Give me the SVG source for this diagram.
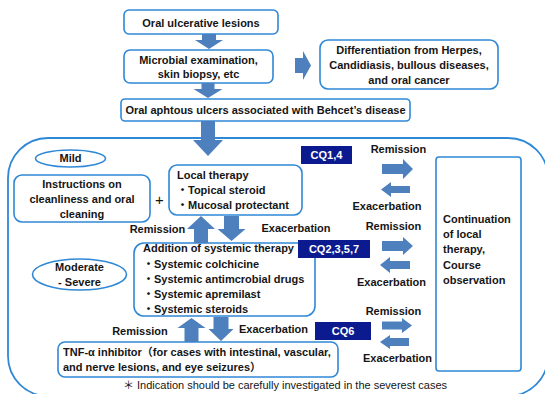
<svg xmlns="http://www.w3.org/2000/svg" width="545" height="394" viewBox="0 0 545 394">
<style>
.box{fill:#fff;stroke:#2F88D6;stroke-width:1.6}
.cont{fill:none;stroke:#2F88D6;stroke-width:1.8}
.cq{fill:#0B1A8E}
.arr{fill:#4E80BE}
text{font-family:"Liberation Sans","Noto Sans CJK JP",sans-serif;font-size:11px;font-weight:bold;fill:#151515}
.m{text-anchor:middle}
.w{fill:#fff}
.reg{font-weight:normal}
</style>
<rect width="545" height="394" fill="#fff"/>
<g id="container"><rect class="cont" x="8" y="138" width="540" height="258" rx="40"/></g>

<g id="n-oral-ulcerative">
<rect class="box" x="124" y="10" width="154" height="24" rx="5"/>
<text class="m" x="201" y="26.5">Oral ulcerative lesions</text>
</g>
<g id="n-microbial">
<rect class="box" x="124" y="50" width="149" height="33" rx="6"/>
<text class="m" x="198.5" y="64">Microbial examination,</text>
<text class="m" x="198.5" y="78">skin biopsy, etc</text>
</g>
<g id="n-differentiation">
<rect class="box" x="320" y="40" width="178" height="49" rx="8"/>
<text class="m" x="409" y="54">Differentiation from Herpes,</text>
<text class="m" x="409" y="69">Candidiasis, bullous diseases,</text>
<text class="m" x="409" y="84">and oral cancer</text>
</g>
<g id="n-behcet">
<rect class="box" x="121" y="99" width="289" height="22" rx="4"/>
<text class="m" x="265.5" y="114">Oral aphtous ulcers associated with Behcet’s disease</text>
</g>

<g id="n-mild">
<ellipse class="box" cx="70.5" cy="158.5" rx="35" ry="8.5"/>
<text class="m" x="70.5" y="162">Mild</text>
</g>
<g id="n-instructions">
<rect class="box" x="14" y="175" width="136" height="47" rx="8"/>
<text class="m" x="82" y="188">Instructions on</text>
<text class="m" x="82" y="203">cleanliness and oral</text>
<text class="m" x="82" y="218">cleaning</text>
</g>
<g id="n-plus"><text class="reg" x="155" y="205" style="font-size:15px">+</text></g>
<g id="n-local">
<rect class="box" x="169" y="165" width="133" height="50" rx="8"/>
<text x="177" y="179">Local therapy</text>
<text x="177" y="194">・Topical steroid</text>
<text x="177" y="209">・Mucosal protectant</text>
</g>
<g id="n-cq14">
<rect class="cq" x="301" y="146" width="51" height="18"/>
<text class="m w" x="326.5" y="159">CQ1,4</text>
</g>

<g id="n-moderate">
<ellipse class="box" cx="79.5" cy="274.5" rx="47" ry="15.5"/>
<text class="m" x="79.5" y="271">Moderate</text>
<text class="m" x="79.5" y="286">- Severe</text>
</g>
<g id="n-systemic">
<rect class="box" x="134" y="243" width="181" height="73" rx="10"/>
<text x="143" y="252">Addition of systemic therapy</text>
<text x="143" y="268">・Systemic colchicine</text>
<text x="143" y="283">・Systemic antimcrobial drugs</text>
<text x="143" y="298">・Systemic apremilast</text>
<text x="143" y="313">・Systemic steroids</text>
</g>
<g id="n-cq2357">
<rect class="cq" x="298" y="240" width="72" height="18"/>
<text class="m w" x="334" y="253">CQ2,3,5,7</text>
</g>
<g id="n-tnf">
<rect class="box" x="58" y="342" width="280" height="35" rx="7"/>
<text x="63" y="356">TNF-α inhibitor（for cases with intestinal, vascular,</text>
<text x="63" y="371">and nerve lesions, and eye seizures）</text>
</g>
<g id="n-cq6">
<rect class="cq" x="315" y="322" width="56" height="18"/>
<text class="m w" x="343" y="335">CQ6</text>
</g>
<g id="n-continuation">
<rect class="box" x="436" y="157" width="85" height="214" rx="3"/>
<text x="443" y="223">Continuation</text>
<text x="443" y="238">of local</text>
<text x="443" y="253">therapy,</text>
<text x="443" y="269">Course</text>
<text x="443" y="284">observation</text>
</g>
<g id="n-footnote">
<text class="reg" x="123" y="389">＊ Indication should be carefully investigated in the severest cases</text>
</g>

<g id="connectors">
<polygon class="arr" points="202,34 216,34 216,40 223,40 209,49 195,40 202,40"/>
<polygon class="arr" points="201.5,83 214.5,83 214.5,89 222.5,89 208,98 193.5,89 201.5,89"/>
<polygon class="arr" points="201,121 215,121 215,140 223,140 208,156 193,140 201,140"/>
<polygon class="arr" points="295,58 303,58 303,51 311,65.5 303,80 303,73 295,73"/>
<polygon class="arr" points="201,216 215,229 208,229 208,243 194,243 194,229 187,229"/>
<polygon class="arr" points="224,216 239,216 239,229 245.5,229 231.5,241 217.5,229 224,229"/>
<polygon class="arr" points="191.5,318 205.5,328 198.5,328 198.5,342 184.5,342 184.5,328 177.5,328"/>
<polygon class="arr" points="213.5,317 228.5,317 228.5,329 233.5,329 221,341 208.5,329 213.5,329"/>
<polygon class="arr" points="382,164 403,164 403,159 413,169 403,179 403,174 382,174"/>
<polygon class="arr" points="381,189.5 391,182 391,186 410,186 410,193 391,193 391,197"/>
<polygon class="arr" points="382,241 403,241 403,237 413,246 403,255 403,251 382,251"/>
<polygon class="arr" points="380,265 390,257 390,261 410,261 410,269 390,269 390,273"/>
<polygon class="arr" points="382,321.5 402,321.5 402,318 412,325.5 402,333 402,329.5 382,329.5"/>
<polygon class="arr" points="380,342 390,335 390,338 409,338 409,346 390,346 390,349"/>
<text class="m" x="157.5" y="233">Remission</text>
<text class="m" x="296" y="232">Exacerbation</text>
<text class="m" x="140" y="335">Remission</text>
<text class="m" x="273.5" y="333">Exacerbation</text>
<text class="m" x="398.5" y="153">Remission</text>
<text class="m" x="387" y="210">Exacerbation</text>
<text class="m" x="393.5" y="230">Remission</text>
<text class="m" x="391.5" y="286">Exacerbation</text>
<text class="m" x="393.5" y="315">Remission</text>
<text class="m" x="397.5" y="362">Exacerbation</text>
</g>
</svg>
